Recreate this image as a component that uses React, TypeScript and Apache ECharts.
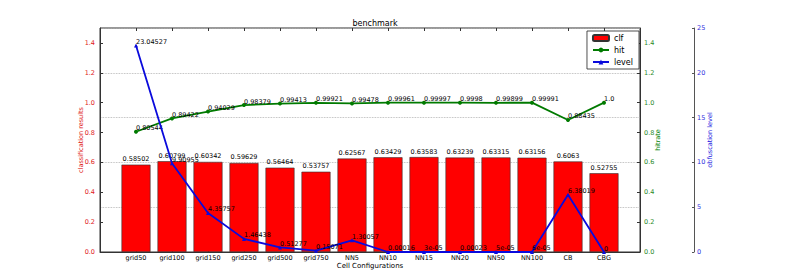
import React, { useEffect, useRef } from "react";
import * as echarts from "echarts";

const categories = ["grid50", "grid100", "grid150", "grid250", "grid500", "grid750", "NN5", "NN10", "NN15", "NN20", "NN50", "NN100", "CB", "CBG"];
const clfValues = [0.58502, 0.60799, 0.60342, 0.59629, 0.56464, 0.53757, 0.62567, 0.63429, 0.63583, 0.63239, 0.63315, 0.63156, 0.6063, 0.52755];
const hitValues = [0.80544, 0.89422, 0.94029, 0.98379, 0.99413, 0.99921, 0.99478, 0.99961, 0.99997, 0.9998, 0.99899, 0.99991, 0.88435, 1.0];
const levelValues = [23.04527, 9.90955, 4.35757, 1.46438, 0.51277, 0.15071, 1.30057, 0.00016, 3e-05, 0.00023, 5e-05, 6e-05, 6.38019, 0];
const leftTicks = { min: 0, max: 1.5, interval: 0.2 };
const levelTicks = { min: 0, max: 25, interval: 5 };

const FONT = "DejaVu Sans";

function pyStr(v: number): string {
  if (v === 0) return "0";
  if (Number.isInteger(v)) return v.toFixed(1);
  if (Math.abs(v) < 1e-4) {
    return v.toExponential().replace(/e([+-])(\d)$/, "e$10$2");
  }
  return String(v);
}

export default function App() {
  const ref = useRef<HTMLDivElement>(null);
  useEffect(() => {
    if (!ref.current) return;
    const chart = echarts.init(ref.current, null, { renderer: "svg" });
    const pointLabel = {
      show: true,
      position: ["50%", "50%"],
      align: "left",
      verticalAlign: "bottom",
      fontSize: 6.5,
      fontFamily: FONT,
      color: "#000",
      formatter: (p: any) => pyStr(p.value[1]),
    };
    chart.setOption({
      animation: false,
      textStyle: { fontFamily: FONT },
      title: {
        text: "benchmark",
        left: 370,
        textAlign: "center",
        top: 14,
        textStyle: { fontSize: 8, fontWeight: "normal", color: "#000", fontFamily: FONT },
      },
      legend: {
        orient: "vertical",
        right: 161,
        top: 31,
        itemWidth: 16,
        itemHeight: 6,
        itemGap: 4,
        padding: [3, 6, 3, 5],
        borderColor: "#222",
        borderWidth: 0.8,
        backgroundColor: "#fff",
        textStyle: { fontSize: 8, color: "#000", fontFamily: FONT },
        data: ["clf", "hit", "level"],
      },
      grid: {
        left: 100,
        right: 160,
        top: 28,
        bottom: 28,
        show: true,
        borderColor: "#333",
        borderWidth: 1,
        backgroundColor: "transparent",
      },
      xAxis: [
        {
          type: "value",
          min: -1,
          max: categories.length,
          interval: 1,
          name: "Cell Configurations",
          nameLocation: "middle",
          nameGap: 10,
          nameMoveOverlap: false,
          nameTextStyle: { fontSize: 7, color: "#000", fontFamily: FONT },
          axisLine: { show: true, onZero: false, lineStyle: { color: "#333" } },
          axisTick: { show: true, inside: true, length: 3, lineStyle: { color: "#333" } },
          splitLine: { show: false },
          axisLabel: {
            fontSize: 6.5,
            color: "#000",
            margin: 2,
            fontFamily: FONT,
            formatter: (v: number) => (categories[v] !== undefined ? categories[v] : ""),
          },
        },
        {
          type: "value",
          position: "top",
          min: -1,
          max: categories.length,
          interval: 1,
          axisLine: { show: false, onZero: false },
          axisTick: { show: true, inside: true, length: 3, lineStyle: { color: "#333" } },
          splitLine: { show: false },
          axisLabel: { show: false },
        },
      ],
      yAxis: [
        {
          type: "value",
          position: "left",
          ...leftTicks,
          name: "classification results",
          nameLocation: "middle",
          nameGap: 16,
          nameMoveOverlap: false,
          nameTextStyle: { fontSize: 6.5, color: "#e02020", fontFamily: FONT },
          axisLine: { show: true, onZero: false, lineStyle: { color: "#333" } },
          axisTick: { show: true, inside: true, length: 3, lineStyle: { color: "#333" } },
          splitLine: { show: false },
          axisLabel: {
            fontSize: 6.5,
            color: "#e02020",
            margin: 5,
            showMaxLabel: false,
            fontFamily: FONT,
            formatter: (v: number) => v.toFixed(1),
          },
        },
        {
          type: "value",
          position: "right",
          ...leftTicks,
          name: "hitrate",
          nameLocation: "middle",
          nameGap: 14,
          nameMoveOverlap: false,
          nameTextStyle: { fontSize: 6.5, color: "#008000", fontFamily: FONT },
          axisLine: { show: true, onZero: false, lineStyle: { color: "#333" } },
          axisTick: { show: true, inside: true, length: 3, lineStyle: { color: "#333" } },
          splitLine: { show: false },
          axisLabel: {
            fontSize: 6.5,
            color: "#2a8a2a",
            margin: 4,
            showMaxLabel: false,
            fontFamily: FONT,
            formatter: (v: number) => v.toFixed(1),
          },
        },
        {
          type: "value",
          position: "right",
          offset: 54,
          ...levelTicks,
          name: "obfuscation level",
          nameLocation: "middle",
          nameGap: 12,
          nameMoveOverlap: false,
          nameTextStyle: { fontSize: 6.5, color: "#2020e0", fontFamily: FONT },
          axisLine: { show: true, onZero: false, lineStyle: { color: "#555" } },
          axisTick: { show: true, inside: true, length: 2, lineStyle: { color: "#555" } },
          splitLine: { show: true, lineStyle: { color: "#aaa", type: "dotted", width: 0.8 } },
          axisLabel: {
            fontSize: 6.5,
            color: "#3030e0",
            margin: 3,
            fontFamily: FONT,
          },
        },
      ],
      series: [
        {
          name: "clf",
          type: "bar",
          xAxisIndex: 0,
          yAxisIndex: 0,
          barWidth: 29,
          itemStyle: { color: "#ff0000", borderColor: "#333", borderWidth: 0.6 },
          label: {
            show: true,
            position: "top",
            distance: 2,
            fontSize: 6.5,
            fontFamily: FONT,
            color: "#000",
            formatter: (p: any) => pyStr(p.value[1]),
          },
          data: clfValues.map((v, i) => [i, v]),
          z: 1,
        },
        {
          name: "hit",
          type: "line",
          xAxisIndex: 0,
          yAxisIndex: 1,
          symbol: "circle",
          symbolSize: 4,
          itemStyle: { color: "#007a00" },
          lineStyle: { color: "#007a00", width: 1.8 },
          label: pointLabel,
          data: hitValues.map((v, i) => [i, v]),
          z: 3,
        },
        {
          name: "level",
          type: "line",
          xAxisIndex: 0,
          yAxisIndex: 2,
          symbol: "triangle",
          symbolSize: 4,
          itemStyle: { color: "#0a0adc" },
          lineStyle: { color: "#0a0adc", width: 1.8 },
          label: pointLabel,
          data: levelValues.map((v, i) => [i, v]),
          z: 4,
        },
      ],
    });
    return () => chart.dispose();
  }, []);
  return (
    <div
      ref={ref}
      style={{ position: "fixed", left: 0, top: 0, width: 800, height: 280, background: "#fff" }}
    />
  );
}
